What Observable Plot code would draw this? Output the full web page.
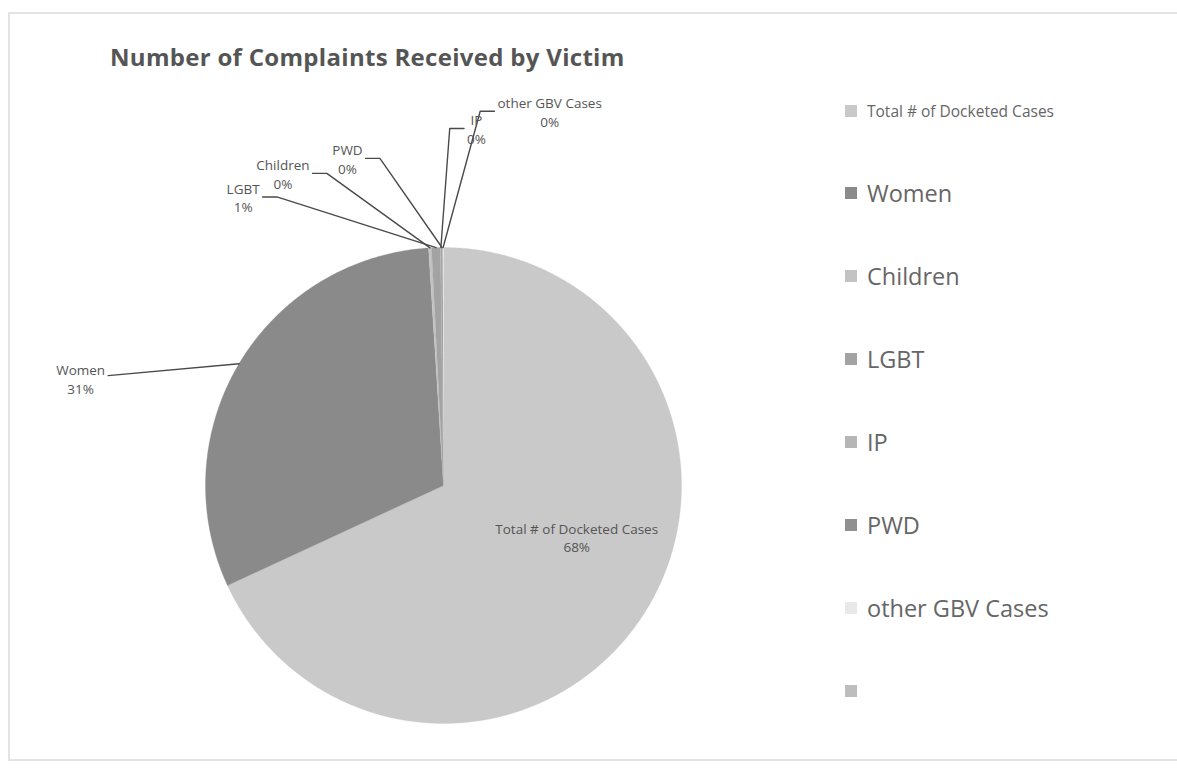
<!DOCTYPE html>
<html>
<head>
<meta charset="utf-8">
<script src="https://cdn.jsdelivr.net/npm/d3@7"></script>
<script src="https://cdn.jsdelivr.net/npm/@observablehq/plot@0.6"></script>
<style>
  html, body { margin: 0; padding: 0; background: #fff; }
  #wrap { position: relative; width: 1177px; height: 769px; overflow: hidden; font-family: "Open Sans", sans-serif; }
  #frame { position: absolute; left: 8px; top: 12px; width: 1200px; height: 749px; border: 2px solid #e3e3e3; box-sizing: border-box; }
  #title { position: absolute; left: 110px; top: 40px; font-size: 24px; letter-spacing: 0.3px; font-weight: 700; color: #555; white-space: nowrap; }
  #chart { position: absolute; left: 0; top: 0; }
  #legend { position: absolute; left: 845px; top: 0; }
  .item { position: absolute; left: 0; display: flex; align-items: center; white-space: nowrap; color: #666; transform: translateY(-50%); }
  .sw { width: 12px; height: 12px; margin-right: 10px; flex: none; }
</style>
</head>
<body>
<div id="wrap">
  <div id="frame"></div>
  <div id="title">Number of Complaints Received by Victim</div>
  <div id="chart"></div>
  <div id="legend"></div>
</div>
<script>
// ---- data ----
const categories = ["Total # of Docketed Cases", "Women", "Children", "LGBT", "IP", "PWD", "other GBV Cases"];
const values = [68.1, 30.9, 0.2, 0.6, 0.05, 0.1, 0.05];
const colors = ["#c9c9c9", "#8a8a8a", "#c3c3c3", "#a3a3a3", "#b6b6b6", "#909090", "#e8e8e8"];
const legendLabels = ["Total # of Docketed Cases", "Women", "Children", "LGBT", "IP", "PWD", "other GBV Cases", ""];
const legendColors = ["#c9c9c9", "#8a8a8a", "#c3c3c3", "#a3a3a3", "#b6b6b6", "#909090", "#e8e8e8", "#bdbdbd"];
const smallLabelOrder = ["LGBT", "Children", "PWD", "IP", "other GBV Cases"];

// ---- layout ----
const W = 820, H = 769, cx = 443, cy = 485, R = 238;
const labelFont = 13.5, labelFamily = "Open Sans";
const ctx = document.createElement("canvas").getContext("2d");
ctx.font = `${labelFont}px "${labelFamily}"`;
const textW = s => Math.max(...s.split("\n").map(l => ctx.measureText(l).width));

const total = d3.sum(values);
const data = categories.map((name, i) => ({name, value: values[i], color: colors[i]}));
const arcs = d3.pie().sort(null).value(d => d.value).startAngle(0).endAngle(2 * Math.PI)(data);

const pt = (a, r) => ({x: r * Math.sin(a), y: r * Math.cos(a)}); // a clockwise from top
const deg = Math.PI / 180;

// slice polygons
const polys = [];
arcs.forEach(a => {
  const n = Math.max(2, Math.ceil((a.endAngle - a.startAngle) / (Math.PI / 360)));
  polys.push({name: a.data.name, ...pt(0, 0)});
  for (let k = 0; k <= n; k++) {
    const t = a.startAngle + (a.endAngle - a.startAngle) * k / n;
    polys.push({name: a.data.name, ...pt(t, 1)});
  }
});

// labels
const pct = v => Math.round(v / total * 100) + "%";
const labels = [], leaders = [];
const px = 1 / R;
// fan of small-slice label elbows: left group then right group
const nLeft = 3;
const fanAngle = i => i < nLeft ? (-30 + i * 9.5) : (1 + (i - nLeft) * 4.6);
const fanRadius = i => i < nLeft ? 1.40 : 1.50 + (i - nLeft) * 0.08;
arcs.forEach(a => {
  const name = a.data.name, mid = (a.startAngle + a.endAngle) / 2;
  const text = name + "\n" + pct(a.data.value);
  const hw = textW(text) / 2;
  if (a.data.value / total > 0.5) {
    const p = pt(mid - 0.2, 0.6);
    labels.push({text, x: p.x, y: p.y});
  } else if (a.data.value / total > 0.1) {
    const e = pt(mid, 1);
    const E = {x: e.x - 0.55, y: e.y - 0.05};
    leaders.push({name, x: e.x, y: e.y}, {name, ...E});
    labels.push({text, x: E.x - (hw + 3) * px, y: E.y - 3 * px});
  } else {
    const i = smallLabelOrder.indexOf(name);
    const e = pt(mid, 1);
    const E = pt(fanAngle(i) * deg, fanRadius(i));
    const side = i < nLeft ? -1 : 1;
    const S = {x: E.x + side * 0.06, y: E.y};
    leaders.push({name, x: e.x, y: e.y}, {name, ...E}, {name, ...S});
    labels.push({text, x: S.x + side * (hw + 3) * px, y: S.y});
  }
});

const chart = Plot.plot({
  width: W, height: H, margin: 0,
  x: {domain: [-1, 1], range: [cx - R, cx + R], axis: null},
  y: {domain: [-1, 1], range: [cy + R, cy - R], axis: null},
  color: {domain: categories, range: colors},
  style: {background: "transparent", overflow: "visible"},
  marks: [
    Plot.line(polys, {x: "x", y: "y", z: "name", fill: "name", stroke: "name", strokeWidth: 0.3, curve: "linear"}),
    Plot.line(leaders, {x: "x", y: "y", z: "name", stroke: "#4a4a4a", strokeWidth: 1.4}),
    Plot.text(labels, {x: "x", y: "y", text: "text", textAnchor: "middle", lineAnchor: "middle", lineHeight: 1.4,
      fontSize: labelFont, fontFamily: labelFamily, fill: "#555"})
  ]
});
document.getElementById("chart").appendChild(chart);

// legend
const legendY = [111, 193, 276, 359, 442, 525, 608, 691];
const leg = document.getElementById("legend");
legendLabels.forEach((l, i) => {
  const it = document.createElement("div");
  it.className = "item";
  it.style.top = legendY[i] + "px";
  it.style.fontSize = (i === 0 ? 15.5 : 23.5) + "px";
  it.innerHTML = `<span class="sw" style="background:${legendColors[i]}"></span><span>${l}</span>`;
  leg.appendChild(it);
});
</script>
</body>
</html>
